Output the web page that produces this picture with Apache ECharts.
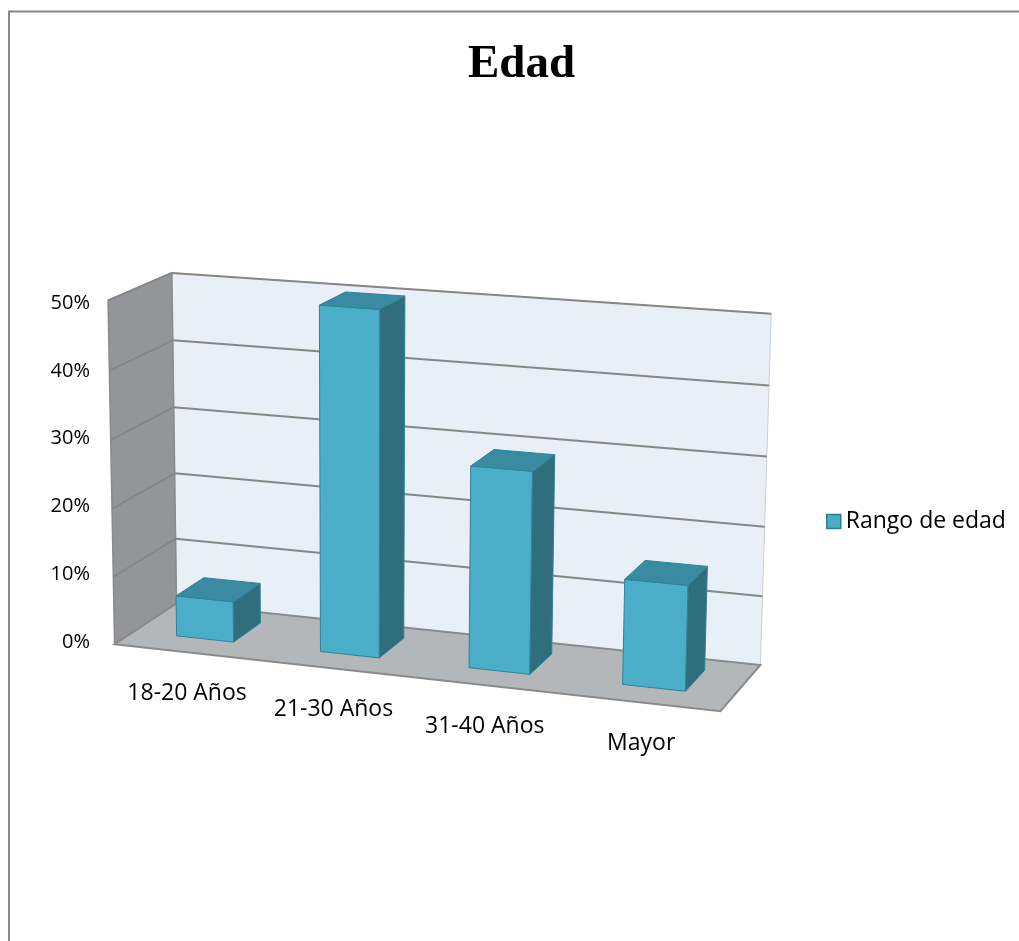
<!DOCTYPE html>
<html>
<head>
<meta charset="utf-8">
<script src="https://cdn.jsdelivr.net/npm/echarts/dist/echarts.min.js"></script>
<style>
html,body{margin:0;padding:0;background:#fff;}
#chart{width:1019px;height:941px;}
</style>
</head>
<body>
<div id="chart"></div>
<script>
// ---------- data ----------
const categories = ['18-20 Años', '21-30 Años', '31-40 Años', 'Mayor'];
const values = [6, 50, 29, 15];
const yTicks = [0, 10, 20, 30, 40, 50];
const seriesName = 'Rango de edad';
const titleText = 'Edad';

// ---------- layout / perspective (world box: x 0..1 across, y 0..1 up, z 0 front .. 1 back) ----------
const yMax = 50;
const anchors = [
  [[0, 0, 0], [117, 643]],
  [[1, 0, 0], [720, 713]],
  [[0, 1, 0], [106, 300]],
  [[0, 0, 1], [174, 605]],
  [[1, 0, 1], [761, 663]],
  [[0, 1, 1], [174, 273]],
  [[1, 1, 1], [771, 314]]
];
const barHalfWidth = 0.05;
const barZFront = 0.31;
const barZBack = 0.77;

function fitProjection(pairs) {
  const A = [], b = [];
  pairs.forEach(([[X, Y, Z], [u, v]]) => {
    A.push([X, Y, Z, 1, 0, 0, 0, 0, -u * X, -u * Y, -u * Z]); b.push(u);
    A.push([0, 0, 0, 0, X, Y, Z, 1, -v * X, -v * Y, -v * Z]); b.push(v);
  });
  const n = 11, M = [];
  for (let i = 0; i < n; i++) {
    const row = new Array(n + 1).fill(0);
    for (let j = 0; j < n; j++) { let s = 0; for (let k = 0; k < A.length; k++) s += A[k][i] * A[k][j]; row[j] = s; }
    let s = 0; for (let k = 0; k < A.length; k++) s += A[k][i] * b[k]; row[n] = s;
    M.push(row);
  }
  for (let c = 0; c < n; c++) {
    let p = c;
    for (let r = c + 1; r < n; r++) if (Math.abs(M[r][c]) > Math.abs(M[p][c])) p = r;
    const t = M[c]; M[c] = M[p]; M[p] = t;
    for (let r = 0; r < n; r++) {
      if (r === c) continue;
      const f = M[r][c] / M[c][c];
      for (let k = c; k <= n; k++) M[r][k] -= f * M[c][k];
    }
  }
  return M.map((row, i) => row[n] / row[i]);
}
const Pm = fitProjection(anchors);
function P(X, Y, Z) {
  const w = Pm[8] * X + Pm[9] * Y + Pm[10] * Z + 1;
  return [(Pm[0] * X + Pm[1] * Y + Pm[2] * Z + Pm[3]) / w,
          (Pm[4] * X + Pm[5] * Y + Pm[6] * Z + Pm[7]) / w];
}
// convert a grid point (from the library's axes) into world fractions
function worldFrom(params, api, cat, val) {
  const cs = params.coordSys;
  const c = api.coord([cat, val]);
  const c0 = api.coord([cat, 0]);
  const cTop = api.coord([cat, yMax]);
  return [(c[0] - cs.x) / cs.width, (c0[1] - c[1]) / (c0[1] - cTop[1])];
}

const FONT = '"Open Sans", "Noto Sans", sans-serif';
const gridColor = '#868686';

function renderWalls(params, api) {
  const poly = (pts, fill, stroke, lw) => ({
    type: 'polygon', shape: { points: pts },
    style: { fill: fill, stroke: stroke || 'none', lineWidth: lw || 0 }
  });
  const line = (a, b, color, lw) => ({
    type: 'line', shape: { x1: a[0], y1: a[1], x2: b[0], y2: b[1] },
    style: { stroke: color, lineWidth: lw }
  });
  const children = [];
  children.push(poly([P(0, 0, 1), P(1, 0, 1), P(1, 1, 1), P(0, 1, 1)], '#E9EFF6', '#C9D0D8', 1));
  children.push(poly([P(0, 0, 0), P(0, 0, 1), P(0, 1, 1), P(0, 1, 0)], '#939598', '#8A8A8A', 1.5));
  children.push(poly([P(0, 0, 0), P(1, 0, 0), P(1, 0, 1), P(0, 0, 1)], '#B4B7BA', '#8A8A8A', 2));
  yTicks.forEach(t => {
    if (t === 0) return;
    const v = worldFrom(params, api, 0, t)[1];
    children.push(line(P(0, v, 1), P(1, v, 1), gridColor, 2));
    children.push(line(P(0, v, 0), P(0, v, 1), gridColor, 2));
  });
  return { type: 'group', children: children };
}

function renderBar(params, api) {
  const idx = api.value(0);
  const w = worldFrom(params, api, idx, api.value(1));
  const x0 = w[0] - barHalfWidth, x1 = w[0] + barHalfWidth, y = w[1];
  const zf = barZFront, zb = barZBack;
  const face = (pts, fill) => ({
    type: 'polygon', shape: { points: pts },
    style: { fill: fill, stroke: '#2F8299', lineWidth: 1, lineJoin: 'round' }
  });
  return {
    type: 'group',
    children: [
      face([P(x0, 0, zf), P(x1, 0, zf), P(x1, y, zf), P(x0, y, zf)], '#4BAEC8'),
      face([P(x1, 0, zf), P(x1, 0, zb), P(x1, y, zb), P(x1, y, zf)], '#2F6E7D'),
      face([P(x0, y, zf), P(x1, y, zf), P(x1, y, zb), P(x0, y, zb)], '#3A8BA1')
    ]
  };
}

function renderLabel(params, api) {
  const idx = api.value(0);
  const w = worldFrom(params, api, idx, 0);
  const p = P(w[0], 0, 0);
  return {
    type: 'text',
    style: {
      text: categories[idx], x: p[0] + 1, y: p[1] + 41,
      align: 'center', verticalAlign: 'middle',
      textAlign: 'center', textVerticalAlign: 'middle',
      font: '23px ' + FONT, fill: '#000'
    }
  };
}

const chart = echarts.init(document.getElementById('chart'), null, { renderer: 'canvas' });
chart.setOption({
  backgroundColor: '#fff',
  animation: false,
  title: {
    text: titleText, left: 463, top: 36,
    textStyle: { fontFamily: '"Liberation Serif", "DejaVu Serif", serif', fontWeight: 'bold', fontSize: 47, color: '#000' }
  },
  legend: {
    data: [{ name: seriesName, icon: 'rect', itemStyle: { color: '#4BACC6', borderColor: '#2C7C93', borderWidth: 1.5 } }],
    left: 821, top: 505, itemWidth: 14, itemHeight: 14,
    textStyle: { fontFamily: FONT, fontSize: 23, color: '#000' }
  },
  graphic: [{
    type: 'rect', shape: { x: 9, y: 11.5, width: 1100, height: 1000 },
    style: { fill: 'none', stroke: '#888', lineWidth: 2 }, silent: true, z: -10
  }],
  grid: { left: 106, top: 303, height: 339, width: 614 },
  xAxis: { type: 'category', data: categories, show: false },
  yAxis: {
    type: 'value', min: 0, max: yMax, interval: 10,
    axisLine: { show: false }, axisTick: { show: false }, splitLine: { show: false },
    axisLabel: { formatter: '{value}%', margin: 16, color: '#000', fontFamily: FONT, fontSize: 20 }
  },
  series: [
    { type: 'custom', name: 'walls', renderItem: renderWalls, data: [[0, 0]], silent: true, clip: false, z: 1 },
    { type: 'custom', name: seriesName, renderItem: renderBar, data: values.map((v, i) => [i, v]),
      itemStyle: { color: '#4BACC6' }, clip: false, z: 2 },
    { type: 'custom', name: 'labels', renderItem: renderLabel, data: categories.map((c, i) => [i, 0]), silent: true, clip: false, z: 3 }
  ]
});
</script>
</body>
</html>
